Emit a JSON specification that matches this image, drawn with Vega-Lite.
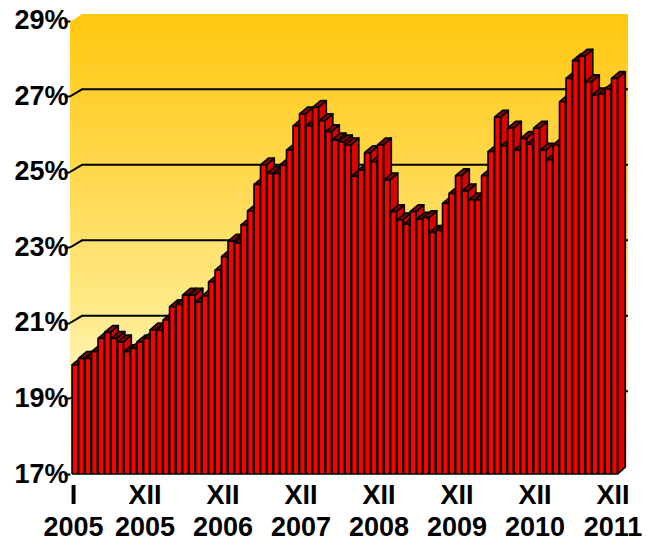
{"$schema":"https://vega.github.io/schema/vega-lite/v6.json","width":558,"height":460,"autosize":"none","padding":{"left":70,"top":14,"right":20,"bottom":64},"background":"white","view":{"stroke":null},"config":{"font":"Liberation Sans"},"datasets":{"wall":[{"name":"wall"}],"levels":[{"level":19},{"level":21},{"level":23},{"level":25},{"level":27}],"bars":[{"month":1,"value":19.89},{"month":2,"value":20.06},{"month":3,"value":20.06},{"month":4,"value":20.24},{"month":5,"value":20.59},{"month":6,"value":20.75},{"month":7,"value":20.59},{"month":8,"value":20.5},{"month":9,"value":20.24},{"month":10,"value":20.33},{"month":11,"value":20.5},{"month":12,"value":20.59},{"month":13,"value":20.82},{"month":14,"value":20.81},{"month":15,"value":21.08},{"month":16,"value":21.43},{"month":17,"value":21.49},{"month":18,"value":21.74},{"month":19,"value":21.74},{"month":20,"value":21.56},{"month":21,"value":21.72},{"month":22,"value":22.09},{"month":23,"value":22.4},{"month":24,"value":22.76},{"month":25,"value":23.17},{"month":26,"value":23.12},{"month":27,"value":23.6},{"month":28,"value":23.97},{"month":29,"value":24.67},{"month":30,"value":25.19},{"month":31,"value":24.96},{"month":32,"value":24.96},{"month":33,"value":25.19},{"month":34,"value":25.58},{"month":35,"value":26.22},{"month":36,"value":26.54},{"month":37,"value":26.22},{"month":38,"value":26.71},{"month":39,"value":26.36},{"month":40,"value":26.07},{"month":41,"value":25.85},{"month":42,"value":25.8},{"month":43,"value":25.72},{"month":44,"value":24.89},{"month":45,"value":25.05},{"month":46,"value":25.51},{"month":47,"value":25.27},{"month":48,"value":25.72},{"month":49,"value":24.79},{"month":50,"value":23.95},{"month":51,"value":23.73},{"month":52,"value":23.62},{"month":53,"value":23.95},{"month":54,"value":23.75},{"month":55,"value":23.79},{"month":56,"value":23.4},{"month":57,"value":23.45},{"month":58,"value":24.17},{"month":59,"value":24.43},{"month":60,"value":24.9},{"month":61,"value":24.5},{"month":62,"value":24.26},{"month":63,"value":24.26},{"month":64,"value":24.9},{"month":65,"value":25.54},{"month":66,"value":26.45},{"month":67,"value":25.69},{"month":68,"value":26.16},{"month":69,"value":25.58},{"month":70,"value":25.89},{"month":71,"value":25.74},{"month":72,"value":26.16},{"month":73,"value":25.58},{"month":74,"value":25.32},{"month":75,"value":25.72},{"month":76,"value":26.86},{"month":77,"value":27.48},{"month":78,"value":27.95},{"month":79,"value":28.07},{"month":80,"value":27.39},{"month":81,"value":27.04},{"month":82,"value":27.07},{"month":83,"value":27.2},{"month":84,"value":27.48}]},"layer":[{"data":{"name":"wall"},"transform":[{"calculate":"[{c:0,x:0.231,y:17},{c:1,x:0.231,y:28.97},{c:2,x:2.08,y:29.185},{c:3,x:86.08,y:29.185},{c:4,x:86.08,y:17.21},{c:5,x:84.38,y:17},{c:6,x:0.231,y:17}]","as":"p"},{"flatten":["p"]},{"calculate":"datum.p.x","as":"px"},{"calculate":"datum.p.y","as":"py"},{"calculate":"datum.p.c","as":"pc"}],"mark":{"type":"line","strokeWidth":0,"fill":{"gradient":"linear","x1":0,"y1":0,"x2":0,"y2":1,"stops":[{"offset":0,"color":"#FFC80F"},{"offset":0.35,"color":"#FFD84E"},{"offset":0.66,"color":"#FFEB8C"},{"offset":1,"color":"#FFFFFF"}]}},"encoding":{"x":{"field":"px","type":"quantitative","scale":{"domain":[0.231,86.08],"nice":false,"zero":false},"axis":{"values":[1,12,24,36,48,60,72,84],"labelExpr":"datum.value==1?['I','2005']:['XII',''+(2004+datum.value/12)]","title":null,"domain":false,"ticks":false,"grid":false,"labelFontSize":27,"labelFont":"Liberation Sans","labelFontWeight":"bold","labelColor":"black","labelLineHeight":32,"labelPadding":8,"labelOffset":-2,"labelOverlap":false,"labelBound":false,"labelFlush":false}},"y":{"field":"py","type":"quantitative","scale":{"domain":[17,29.185],"nice":false,"zero":false},"axis":{"values":[17,19,21,23,25,27,29],"labelExpr":"datum.value+'%'","title":null,"domain":false,"grid":false,"tickSize":6,"tickWidth":2,"tickColor":"black","labelFontSize":27,"labelFont":"Liberation Sans","labelFontWeight":"bold","labelColor":"black","labelPadding":-4}},"order":{"field":"pc"}}},{"data":{"name":"levels"},"transform":[{"calculate":"[{c:0,x:0.231,d:0},{c:1,x:2.08,d:0.19},{c:2,x:86.08,d:0.19}]","as":"p"},{"flatten":["p"]},{"calculate":"datum.p.x","as":"px"},{"calculate":"datum.level+datum.p.d","as":"py"},{"calculate":"datum.p.c","as":"pc"}],"mark":{"type":"line","stroke":"black","strokeWidth":2},"encoding":{"x":{"field":"px","type":"quantitative"},"y":{"field":"py","type":"quantitative"},"detail":{"field":"level"},"order":{"field":"pc"}}},{"data":{"name":"bars"},"transform":[{"calculate":"[{f:'0side',c:0,x:0.45,y:0,t:0},{f:'0side',c:1,x:1.66,y:0.18,t:0},{f:'0side',c:2,x:1.66,y:0.18,t:1},{f:'0side',c:3,x:0.45,y:0,t:1},{f:'0side',c:4,x:0.45,y:0,t:0},{f:'1top',c:0,x:-0.45,y:0,t:1},{f:'1top',c:1,x:0.45,y:0,t:1},{f:'1top',c:2,x:1.66,y:0.18,t:1},{f:'1top',c:3,x:0.8,y:0.18,t:1},{f:'1top',c:4,x:-0.45,y:0,t:1},{f:'2front',c:0,x:-0.45,y:0,t:0},{f:'2front',c:1,x:0.45,y:0,t:0},{f:'2front',c:2,x:0.45,y:0,t:1},{f:'2front',c:3,x:-0.45,y:0,t:1},{f:'2front',c:4,x:-0.45,y:0,t:0}]","as":"p"},{"flatten":["p"]},{"calculate":"datum.month+datum.p.x","as":"px"},{"calculate":"(datum.p.t==1?datum.value:17)+datum.p.y","as":"py"},{"calculate":"datum.p.c","as":"pc"},{"calculate":"datum.p.f","as":"face"},{"calculate":"datum.month*10+indexof(['0side','1top','2front'],datum.p.f)","as":"part"}],"mark":{"type":"line","stroke":"black","strokeWidth":1.7,"strokeJoin":"round"},"encoding":{"x":{"field":"px","type":"quantitative"},"y":{"field":"py","type":"quantitative"},"fill":{"field":"face","type":"nominal","legend":null,"scale":{"domain":["0side","1top","2front"],"range":["#DC0000","#8C0000","#FA0000"]}},"detail":{"field":"part"},"order":{"field":"pc"}}}]}
